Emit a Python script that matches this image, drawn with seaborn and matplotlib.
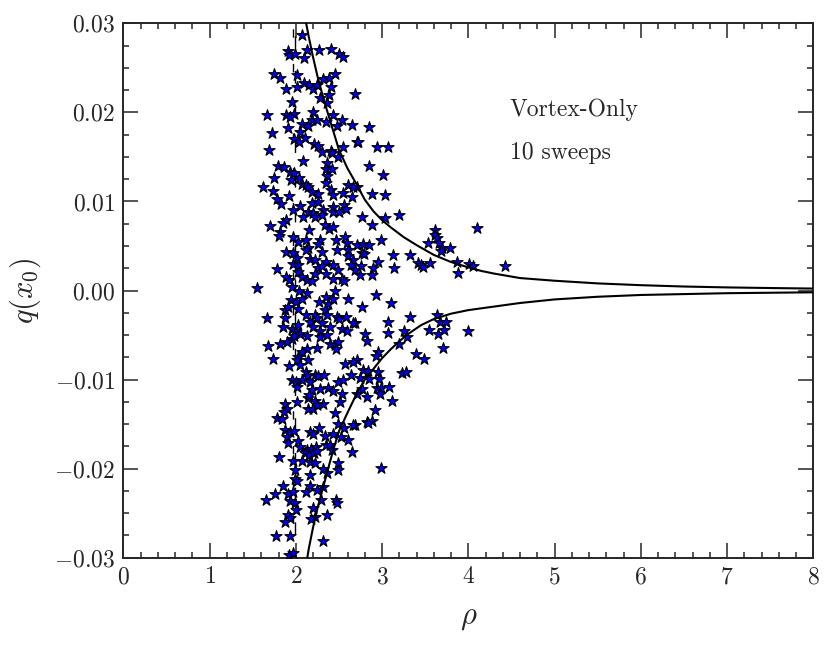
import pandas as pd
import matplotlib
matplotlib.use("Agg")
import matplotlib.pyplot as plt
import seaborn as sns
from matplotlib.ticker import MultipleLocator, FuncFormatter

# star positions (rho, q), grouped by region
upper_left = [
    (2.068, 0.0287), (1.913, 0.0269), (1.921, 0.0264), (1.990, 0.0266), (2.126, 0.0270), (2.095, 0.0261),
    (2.273, 0.0270), (2.404, 0.0271), (2.501, 0.0266), (2.551, 0.0262), (1.747, 0.0243), (1.817, 0.0239),
    (2.018, 0.0242), (1.882, 0.0226), (2.010, 0.0228), (2.099, 0.0233), (2.157, 0.0231), (2.195, 0.0226),
    (2.242, 0.0231), (2.319, 0.0238), (2.381, 0.0239), (2.458, 0.0243), (2.408, 0.0228), (2.686, 0.0221),
    (2.385, 0.0219), (2.280, 0.0216), (2.365, 0.0211), (1.952, 0.0212), (2.203, 0.0200), (1.662, 0.0197),
    (1.882, 0.0197), (1.979, 0.0198), (1.933, 0.0195), (2.184, 0.0192), (2.242, 0.0191), (2.435, 0.0197),
    (2.350, 0.0189), (2.532, 0.0191), (2.648, 0.0186), (2.068, 0.0187), (2.145, 0.0185), (1.913, 0.0182),
    (2.049, 0.0178), (2.474, 0.0185), (1.720, 0.0177), (1.979, 0.0170), (2.041, 0.0167), (2.107, 0.0171),
    (2.211, 0.0165), (2.261, 0.0162), (1.693, 0.0158), (2.404, 0.0157), (2.551, 0.0161), (2.706, 0.0167),
]
upper_right = [
    (2.848, 0.0184), (2.725, 0.0167), (2.945, 0.0161), (3.065, 0.0161), (2.848, 0.0140), (3.007, 0.0130),
    (2.705, 0.0116), (2.887, 0.0108), (3.034, 0.0107), (2.771, 0.0083), (2.887, 0.0074), (3.034, 0.0082),
    (3.200, 0.0085), (2.987, 0.0057), (2.705, 0.0051), (2.783, 0.0052), (2.848, 0.0051), (2.771, 0.0042),
    (2.794, 0.0041), (3.130, 0.0040), (3.324, 0.0040), (2.957, 0.0032), (2.756, 0.0028), (2.899, 0.0025),
    (2.879, 0.0017), (2.744, 0.0017), (3.142, 0.0025), (3.413, 0.0031), (3.452, 0.0029), (3.478, 0.0026),
    (3.556, 0.0031), (3.529, 0.0053), (3.614, 0.0068), (3.614, 0.0062), (3.633, 0.0059), (3.660, 0.0053),
    (3.691, 0.0048), (3.683, 0.0044), (3.788, 0.0048), (3.865, 0.0032), (3.884, 0.0020), (4.008, 0.0030),
    (4.058, 0.0028), (4.104, 0.0070), (2.929, -0.0005), (4.430, 0.0028),
]
lower_right = [
    (2.771, -0.0018), (3.100, -0.0014), (3.324, -0.0030), (3.073, -0.0035), (2.686, -0.0037), (3.073, -0.0048),
    (2.802, -0.0049), (2.829, -0.0057), (3.258, -0.0046), (3.285, -0.0052), (3.196, -0.0060), (3.633, -0.0028),
    (3.672, -0.0035), (3.737, -0.0035), (3.544, -0.0044), (3.644, -0.0049), (3.718, -0.0044), (3.992, -0.0045),
    (3.710, -0.0065), (3.389, -0.0071), (3.486, -0.0077), (2.957, -0.0069), (2.926, -0.0074), (2.705, -0.0078),
    (2.783, -0.0089), (2.841, -0.0090), (2.949, -0.0092), (2.744, -0.0098), (2.848, -0.0099), (2.964, -0.0099),
    (3.227, -0.0093), (3.273, -0.0092), (2.763, -0.0111), (2.937, -0.0109), (2.987, -0.0110), (3.080, -0.0108),
    (2.976, -0.0116), (2.705, -0.0116), (2.821, -0.0120), (3.119, -0.0124), (2.918, -0.0134), (2.821, -0.0148),
    (2.879, -0.0147), (2.841, -0.0149), (2.686, -0.0151), (2.987, -0.0199),
]
middle_upper = [
    (2.300, 0.0155), (2.420, 0.0154), (2.490, 0.0150), (2.079, 0.0145), (1.797, 0.0140), (1.863, 0.0139),
    (1.933, 0.0133), (1.979, 0.0132), (2.365, 0.0143), (2.350, 0.0136), (2.416, 0.0137), (2.365, 0.0129),
    (2.350, 0.0121), (1.747, 0.0126), (1.940, 0.0124), (2.041, 0.0126), (1.616, 0.0116), (2.068, 0.0120),
    (2.118, 0.0119), (2.145, 0.0116), (2.184, 0.0111), (1.739, 0.0112), (1.925, 0.0106), (2.261, 0.0108),
    (2.404, 0.0113), (2.435, 0.0107), (2.609, 0.0118), (2.667, 0.0116), (2.543, 0.0109), (2.648, 0.0105),
    (1.786, 0.0103), (1.828, 0.0097), (2.184, 0.0098), (2.261, 0.0099), (2.049, 0.0095), (1.963, 0.0090),
    (2.427, 0.0094), (2.559, 0.0096), (2.145, 0.0088), (2.203, 0.0087), (2.319, 0.0090), (2.435, 0.0088),
    (2.505, 0.0088), (2.582, 0.0091), (2.087, 0.0083), (2.222, 0.0083), (2.300, 0.0085), (1.886, 0.0079),
    (1.855, 0.0076), (1.701, 0.0073), (2.338, 0.0074), (2.389, 0.0069), (2.427, 0.0071), (2.157, 0.0068),
    (1.817, 0.0066), (1.809, 0.0061), (1.971, 0.0060), (2.029, 0.0055), (2.118, 0.0057), (2.280, 0.0057),
    (2.261, 0.0052), (2.466, 0.0057), (2.570, 0.0060), (2.590, 0.0053), (2.474, 0.0046), (2.145, 0.0048),
    (2.118, 0.0045), (2.300, 0.0043), (1.886, 0.0043), (1.963, 0.0042), (2.010, 0.0037), (2.609, 0.0045),
    (2.609, 0.0039), (2.165, 0.0035), (2.222, 0.0034), (2.350, 0.0032), (2.667, 0.0034), (2.636, 0.0029),
    (1.963, 0.0030), (2.029, 0.0029), (1.786, 0.0024), (2.261, 0.0025), (2.300, 0.0027), (2.435, 0.0029),
    (2.493, 0.0023), (2.029, 0.0021), (2.068, 0.0015), (2.222, 0.0018), (2.350, 0.0018), (1.886, 0.0015),
    (1.925, 0.0012), (2.435, 0.0013), (2.532, 0.0013), (2.559, 0.0011), (2.134, 0.0012), (2.184, 0.0011),
    (2.686, 0.0023), (1.554, 0.0003), (1.952, 0.0004),
]
middle_lower = [
    (2.041, 0.0000), (2.134, -0.0003), (2.454, 0.0000), (2.609, -0.0010), (1.940, -0.0011), (2.002, -0.0013),
    (2.068, -0.0009), (2.350, -0.0007), (2.377, -0.0015), (2.435, -0.0009), (2.273, -0.0013), (1.662, -0.0031),
    (1.875, -0.0022), (1.913, -0.0018), (2.029, -0.0021), (1.875, -0.0031), (2.118, -0.0028), (2.222, -0.0028),
    (2.242, -0.0031), (2.165, -0.0035), (2.338, -0.0022), (2.365, -0.0028), (2.474, -0.0030), (2.505, -0.0032),
    (2.582, -0.0030), (2.667, -0.0036), (1.855, -0.0041), (1.952, -0.0043), (1.990, -0.0046), (2.029, -0.0039),
    (2.049, -0.0049), (2.203, -0.0041), (2.280, -0.0045), (2.300, -0.0037), (2.396, -0.0041), (2.532, -0.0043),
    (2.590, -0.0045), (2.134, -0.0051), (1.952, -0.0054), (1.979, -0.0051), (2.280, -0.0052), (2.358, -0.0050),
    (2.396, -0.0060), (2.454, -0.0061), (2.493, -0.0058), (2.466, -0.0066), (1.681, -0.0062), (1.817, -0.0060),
    (1.894, -0.0058), (2.134, -0.0066), (2.068, -0.0069), (2.249, -0.0065), (2.029, -0.0075), (2.010, -0.0078),
    (2.145, -0.0078), (1.732, -0.0077), (1.925, -0.0085), (2.049, -0.0084), (2.570, -0.0083), (2.667, -0.0080),
    (2.118, -0.0091), (2.134, -0.0096), (2.068, -0.0101), (2.222, -0.0095), (2.261, -0.0096), (2.327, -0.0095),
    (1.952, -0.0100), (2.002, -0.0103), (2.165, -0.0103), (2.493, -0.0103), (2.551, -0.0101), (2.636, -0.0095),
    (2.184, -0.0112), (2.280, -0.0111), (2.377, -0.0109), (2.435, -0.0113), (2.018, -0.0108), (2.532, -0.0116),
    (2.512, -0.0125), (2.145, -0.0121), (2.157, -0.0117), (2.222, -0.0124), (1.875, -0.0127), (2.010, -0.0125),
    (2.319, -0.0127), (1.894, -0.0133), (1.863, -0.0136), (2.145, -0.0133), (2.203, -0.0133), (2.242, -0.0129),
    (1.778, -0.0143), (1.836, -0.0144), (2.454, -0.0138),
]
lower_left = [
    (2.493, -0.0150), (2.559, -0.0154), (2.667, -0.0151), (1.875, -0.0157), (1.933, -0.0159), (1.979, -0.0158),
    (2.165, -0.0159), (2.203, -0.0161), (2.273, -0.0154), (2.338, -0.0163), (2.427, -0.0161), (2.520, -0.0164),
    (2.609, -0.0168), (1.894, -0.0165), (1.913, -0.0171), (2.029, -0.0169), (2.350, -0.0173), (2.396, -0.0174),
    (2.049, -0.0176), (2.134, -0.0179), (2.172, -0.0178), (2.234, -0.0176), (2.416, -0.0179), (2.648, -0.0181),
    (1.809, -0.0187), (2.107, -0.0183), (2.157, -0.0185), (2.211, -0.0183), (2.242, -0.0180), (1.971, -0.0191),
    (2.068, -0.0191), (2.165, -0.0193), (2.222, -0.0194), (1.990, -0.0202), (2.493, -0.0194), (2.493, -0.0202),
    (2.319, -0.0200), (2.358, -0.0205), (2.165, -0.0207), (1.990, -0.0212), (2.018, -0.0214), (1.848, -0.0219),
    (2.165, -0.0220), (2.118, -0.0226), (2.311, -0.0221), (2.249, -0.0224), (1.759, -0.0228), (1.913, -0.0228),
    (1.971, -0.0226), (1.654, -0.0235), (1.933, -0.0236), (2.288, -0.0235), (2.466, -0.0235), (2.481, -0.0239),
    (1.990, -0.0239), (2.002, -0.0246), (2.195, -0.0244), (1.913, -0.0252), (1.933, -0.0255), (1.875, -0.0260),
    (2.222, -0.0254), (2.172, -0.0257), (2.365, -0.0252), (1.770, -0.0276), (1.933, -0.0276), (2.319, -0.0281),
    (1.925, -0.0297), (1.963, -0.0295),
]

# bounding curves
upper_rho = [2.11, 2.15, 2.20, 2.25, 2.30, 2.35, 2.40, 2.45, 2.50, 2.60, 2.70, 2.80, 2.90, 3.00, 3.10, 3.25,
             3.40, 3.60, 3.80, 4.00, 4.15, 4.30, 4.45, 4.60, 4.80, 5.00, 5.25, 5.50, 5.75, 6.00, 6.50, 7.00,
             7.50, 8.00]
upper_q = [0.0305, 0.0285, 0.0262, 0.0241, 0.0223, 0.0206, 0.0190, 0.0174, 0.0158, 0.0137, 0.0120, 0.0102,
           0.0089, 0.0079, 0.0071, 0.0060, 0.0051, 0.0040, 0.0032, 0.0026, 0.0022, 0.0019, 0.00165, 0.0014,
           0.00125, 0.0011, 0.00095, 0.0008, 0.0007, 0.0006, 0.00045, 0.00035, 0.00028, 0.00022]
lower_rho = [2.125, 2.15, 2.20, 2.25, 2.30, 2.35, 2.40, 2.45, 2.50, 2.60, 2.70, 2.80, 2.90, 3.00, 3.10, 3.20,
             3.30, 3.45, 3.60, 3.80, 4.00, 4.15, 4.30, 4.45, 4.60, 4.80, 5.00, 5.25, 5.50, 5.75, 6.00, 6.50,
             7.00, 7.50, 8.00]
lower_q = [-0.0305, -0.0290, -0.0266, -0.0245, -0.0227, -0.0209, -0.0191, -0.0174, -0.0158, -0.0137, -0.0117,
           -0.0100, -0.0088, -0.0076, -0.0066, -0.0057, -0.0049, -0.0039, -0.0032, -0.0026, -0.0022, -0.0020,
           -0.0018, -0.0016, -0.0014, -0.0012, -0.0010, -0.00085, -0.0007, -0.0006, -0.0005, -0.0004, -0.0003,
           -0.00025, -0.0002]
# two dashed verticals near rho = 2
rho_lines = [1.964, 1.990]

stars = pd.DataFrame(upper_left + upper_right + lower_right + middle_upper + middle_lower + lower_left,
                     columns=["rho", "q"])

sns.set_style("ticks")
plt.rcParams["font.family"] = ["cmr10", "DejaVu Serif"]
plt.rcParams["mathtext.fontset"] = "cm"
plt.rcParams["axes.unicode_minus"] = False

fig, ax = plt.subplots(figsize=(8.31, 6.49), dpi=100)
fig.subplots_adjust(left=0.1484, right=0.9787, top=0.964, bottom=0.1407)

ax.axvline(rho_lines[0], color="black", ls=(0, (6, 19)), lw=1.0, zorder=1)
ax.axvline(rho_lines[1], color="black", ls=(8, (9, 16)), lw=1.0, zorder=1)
sns.scatterplot(data=stars, x="rho", y="q", marker="*", s=72, color="blue",
                edgecolor="black", linewidth=0.8, ax=ax, zorder=3, legend=False)
sns.lineplot(x=upper_rho, y=upper_q, color="black", lw=1.5, sort=False, estimator=None, ax=ax, zorder=4)
sns.lineplot(x=lower_rho, y=lower_q, color="black", lw=1.5, sort=False, estimator=None, ax=ax, zorder=4)

ax.set_xlim(0, 8)
ax.set_ylim(-0.03, 0.03)
ax.xaxis.set_major_locator(MultipleLocator(1))
ax.xaxis.set_minor_locator(MultipleLocator(0.2))
ax.yaxis.set_major_locator(MultipleLocator(0.01))
ax.yaxis.set_minor_locator(MultipleLocator(0.0025))
ax.xaxis.set_major_formatter(FuncFormatter(lambda v, p: f"${v:.0f}$"))
ax.yaxis.set_major_formatter(FuncFormatter(lambda v, p: f"${v:.2f}$".replace("-0.00", "0.00")))
ax.tick_params(which="both", direction="in", top=True, right=True, width=1.1, labelsize=17, pad=6)
ax.tick_params(which="major", length=10.5)
ax.tick_params(which="minor", length=4)
for sp in ax.spines.values():
    sp.set_linewidth(1.4)

ax.set_xlabel(r"$\rho$", fontsize=22, labelpad=12)
ax.set_ylabel(r"$q(x_0)$", fontsize=22, labelpad=8)

ax.text(4.48, 0.0203, "Vortex-Only", fontsize=17, va="center")
ax.text(4.48, 0.0155, "10 sweeps", fontsize=17, va="center")

plt.savefig("out.png", dpi=100)
